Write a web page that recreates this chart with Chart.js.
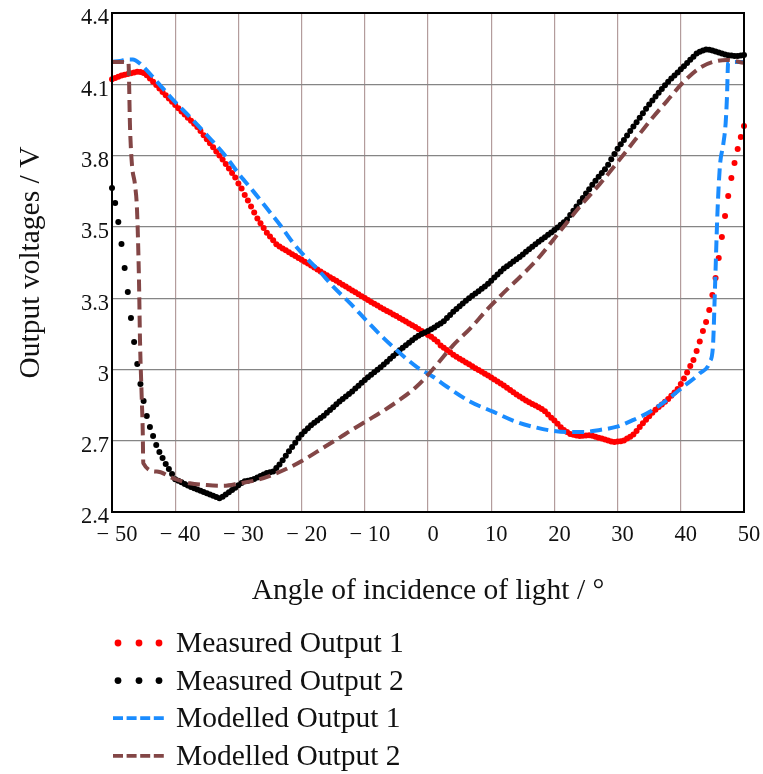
<!DOCTYPE html>
<html><head><meta charset="utf-8">
<script src="https://cdn.jsdelivr.net/npm/chart.js@4.4.1/dist/chart.umd.min.js"></script>
<style>html,body{margin:0;padding:0;background:#fff;}#wrap{width:763px;height:774px;}</style>
</head><body><div id="wrap"><canvas id="c" width="763" height="774"></canvas></div>
<script>
// ---------- data ----------
const seriesLabels = ['Measured Output 1', 'Measured Output 2', 'Modelled Output 1', 'Modelled Output 2'];
const xTickValues = [-50, -40, -30, -20, -10, 0, 10, 20, 30, 40, 50];
const xTickLabels = ['\u2212 50', '\u2212 40', '\u2212 30', '\u2212 20', '\u2212 10', '0', '10', '20', '30', '40', '50'];
const yTickLabels = ['2.4', '2.7', '3', '3.3', '3.5', '3.8', '4.1', '4.4'];
const yMin = 2.4, yMax = 4.4;
const yTickValues = yTickLabels.map((_, i) => yMin + i * (yMax - yMin) / (yTickLabels.length - 1));

const measuredAngles = [
-50,-49.5,-49,-48.5,-48,-47.5,-47,-46.5,-46,-45.5,
-45,-44.5,-44,-43.5,-43,-42.5,-42,-41.5,-41,-40.5,
-40,-39.5,-39,-38.5,-38,-37.5,-37,-36.5,-36,-35.5,
-35,-34.5,-34,-33.5,-33,-32.5,-32,-31.5,-31,-30.5,
-30,-29.5,-29,-28.5,-28,-27.5,-27,-26.5,-26,-25.5,
-25,-24.5,-24,-23.5,-23,-22.5,-22,-21.5,-21,-20.5,
-20,-19.5,-19,-18.5,-18,-17.5,-17,-16.5,-16,-15.5,
-15,-14.5,-14,-13.5,-13,-12.5,-12,-11.5,-11,-10.5,
-10,-9.5,-9,-8.5,-8,-7.5,-7,-6.5,-6,-5.5,
-5,-4.5,-4,-3.5,-3,-2.5,-2,-1.5,-1,-0.5,
0,0.5,1,1.5,2,2.5,3,3.5,4,4.5,
5,5.5,6,6.5,7,7.5,8,8.5,9,9.5,
10,10.5,11,11.5,12,12.5,13,13.5,14,14.5,
15,15.5,16,16.5,17,17.5,18,18.5,19,19.5,
20,20.5,21,21.5,22,22.5,23,23.5,24,24.5,
25,25.5,26,26.5,27,27.5,28,28.5,29,29.5,
30,30.5,31,31.5,32,32.5,33,33.5,34,34.5,
35,35.5,36,36.5,37,37.5,38,38.5,39,39.5,
40,40.5,41,41.5,42,42.5,43,43.5,44,44.5,
45,45.5,46,46.5,47,47.5,48,48.5,49,49.5,
50];

const measured1 = [
4.134,4.139,4.144,4.149,4.153,4.156,4.159,4.162,4.165,4.164,
4.160,4.151,4.137,4.124,4.111,4.097,4.083,4.070,4.057,4.044,
4.031,4.018,4.005,3.993,3.980,3.968,3.956,3.943,3.927,3.910,
3.894,3.878,3.862,3.845,3.829,3.813,3.795,3.777,3.759,3.741,
3.717,3.697,3.671,3.648,3.624,3.600,3.576,3.557,3.538,3.519,
3.504,3.489,3.473,3.464,3.456,3.449,3.441,3.433,3.426,3.418,
3.411,3.403,3.396,3.388,3.380,3.372,3.364,3.356,3.349,3.341,
3.334,3.327,3.319,3.311,3.304,3.296,3.288,3.281,3.273,3.265,
3.258,3.250,3.242,3.235,3.228,3.220,3.213,3.206,3.200,3.192,
3.186,3.178,3.171,3.164,3.156,3.148,3.141,3.133,3.125,3.117,
3.109,3.102,3.092,3.082,3.067,3.058,3.049,3.040,3.030,3.022,
3.014,3.007,2.999,2.992,2.984,2.976,2.969,2.962,2.954,2.947,
2.939,2.931,2.923,2.915,2.907,2.898,2.889,2.880,2.871,2.863,
2.855,2.847,2.840,2.833,2.827,2.820,2.813,2.804,2.791,2.778,
2.767,2.754,2.740,2.729,2.721,2.713,2.710,2.707,2.705,2.706,
2.707,2.708,2.706,2.702,2.698,2.695,2.691,2.687,2.683,2.681,
2.683,2.684,2.687,2.695,2.702,2.711,2.725,2.741,2.756,2.770,
2.784,2.798,2.810,2.821,2.831,2.842,2.853,2.866,2.879,2.893,
2.913,2.935,2.959,2.985,3.009,3.045,3.083,3.125,3.162,3.210,
3.270,3.338,3.418,3.502,3.586,3.667,3.739,3.799,3.855,3.903,
3.947];

const measured2 = [
3.699,3.638,3.562,3.474,3.378,3.282,3.178,3.081,2.993,2.913,
2.845,2.785,2.741,2.705,2.669,2.640,2.616,2.592,2.572,2.552,
2.531,2.525,2.519,2.512,2.506,2.500,2.495,2.490,2.485,2.480,
2.475,2.470,2.465,2.460,2.455,2.461,2.470,2.479,2.488,2.497,
2.507,2.516,2.523,2.525,2.528,2.532,2.538,2.544,2.550,2.556,
2.559,2.562,2.576,2.590,2.607,2.625,2.643,2.661,2.678,2.696,
2.711,2.724,2.736,2.748,2.758,2.767,2.777,2.786,2.798,2.809,
2.820,2.832,2.843,2.853,2.863,2.873,2.883,2.895,2.906,2.918,
2.929,2.940,2.950,2.960,2.970,2.980,2.991,3.002,3.014,3.025,
3.036,3.048,3.058,3.068,3.078,3.088,3.098,3.106,3.113,3.119,
3.125,3.132,3.139,3.148,3.156,3.165,3.178,3.190,3.203,3.214,
3.225,3.236,3.247,3.257,3.267,3.276,3.285,3.295,3.304,3.315,
3.327,3.340,3.352,3.364,3.376,3.385,3.394,3.404,3.413,3.422,
3.432,3.443,3.453,3.463,3.473,3.483,3.492,3.501,3.511,3.520,
3.530,3.540,3.551,3.561,3.572,3.590,3.607,3.624,3.642,3.659,
3.677,3.694,3.712,3.728,3.744,3.759,3.774,3.792,3.814,3.835,
3.856,3.874,3.891,3.909,3.927,3.945,3.962,3.980,3.998,4.016,
4.033,4.049,4.065,4.080,4.095,4.110,4.124,4.137,4.150,4.162,
4.175,4.187,4.200,4.213,4.225,4.238,4.245,4.250,4.254,4.253,
4.250,4.246,4.242,4.238,4.234,4.231,4.230,4.228,4.228,4.230,
4.232];

const model1Angles = [-50,-48.7,-47.4,-46.7,-45.6,-42.9,-40.3,-37.7,-35,-32.4,-29.8,-27.6,-25.5,-23.4,-21.3,-19.2,-17.1,-15,-12.3,-9.7,-7.1,-4.4,-1.8,0.8,3,6.7,10.3,14,16.7,19.3,22,24.6,27.2,29.9,32.5,35.1,37.8,40.4,43,44.6,45.1,45.4,45.8,46.2,46.7,47.1,47.3,47.5,50];
const model1 = [4.204,4.208,4.214,4.214,4.198,4.125,4.051,3.984,3.911,3.838,3.751,3.684,3.617,3.550,3.477,3.417,3.363,3.303,3.236,3.166,3.099,3.036,2.982,2.942,2.902,2.842,2.802,2.761,2.741,2.727,2.721,2.721,2.729,2.742,2.769,2.802,2.849,2.902,2.956,3.002,3.069,3.290,3.600,3.790,3.870,3.960,4.060,4.204,4.204];

const model2Angles = [-50,-47.4,-47.15,-46.84,-46.36,-46.04,-45.73,-45.57,-45.3,-45.14,-45.05,-42.9,-40.3,-37.7,-35,-32.4,-29.8,-27.1,-24.5,-21.8,-19.2,-16.6,-13.9,-12.3,-9.7,-7.1,-4.4,-1.8,0.8,4,6.7,9.3,11.9,14.6,17.2,19.8,20.9,24.1,27.2,29.9,32.5,35.1,37.8,40.4,43,45.1,47.3,50];
const model2 = [4.204,4.202,3.943,3.791,3.711,3.610,3.330,3.089,2.861,2.729,2.596,2.562,2.535,2.515,2.508,2.505,2.515,2.528,2.550,2.580,2.616,2.657,2.699,2.725,2.765,2.805,2.851,2.903,2.973,3.069,3.136,3.210,3.277,3.343,3.410,3.490,3.526,3.626,3.715,3.799,3.883,3.967,4.047,4.123,4.180,4.204,4.212,4.200];

// ---------- styles ----------
const COLORS = ['#ff0000', '#000000', '#1a8cff', '#834646'];
const SERIF = '"Liberation Serif", "Times New Roman", serif';

function pairs(xs, ys) { return xs.map((x, i) => ({ x: x, y: ys[i] })); }

const framePlugin = {
  id: 'frame',
  afterDraw(chart) {
    const { ctx, chartArea: a } = chart;
    ctx.save();
    ctx.strokeStyle = '#000';
    ctx.lineWidth = 2;
    ctx.strokeRect(a.left, a.top, a.right - a.left, a.bottom - a.top);
    ctx.restore();
  }
};

const legendPlugin = {
  id: 'seriesLegend',
  afterDraw(chart) {
    const ctx = chart.ctx;
    const base = chart.chartArea.bottom + 131;
    const step = 37.6;
    ctx.save();
    chart.data.datasets.forEach((ds, i) => {
      const cy = base + i * step;
      const col = COLORS[i];
      if (!ds.showLine) {
        ctx.fillStyle = col;
        [118, 139, 159].forEach(cx => { ctx.beginPath(); ctx.arc(cx, cy, 3.4, 0, Math.PI * 2); ctx.fill(); });
      } else {
        ctx.strokeStyle = col;
        ctx.lineWidth = 3.8;
        ctx.setLineDash([10, 3.6]);
        ctx.beginPath(); ctx.moveTo(113, cy); ctx.lineTo(164, cy); ctx.stroke();
        ctx.setLineDash([]);
      }
      ctx.fillStyle = '#111';
      ctx.font = '29.5px ' + SERIF;
      ctx.textBaseline = 'alphabetic';
      ctx.textAlign = 'left';
      ctx.fillText(ds.label, 176, cy + 9);
    });
    ctx.restore();
  }
};

function build() {
  const ctx = document.getElementById('c').getContext('2d');
  new Chart(ctx, {
    type: 'scatter',
    data: {
      datasets: [
        { label: seriesLabels[0], data: pairs(measuredAngles, measured1), showLine: false,
          pointRadius: 3, pointBorderWidth: 0, pointBackgroundColor: COLORS[0], backgroundColor: COLORS[0], borderColor: COLORS[0], order: 4, clip: 6 },
        { label: seriesLabels[1], data: pairs(measuredAngles, measured2), showLine: false,
          pointRadius: 3, pointBorderWidth: 0, pointBackgroundColor: COLORS[1], backgroundColor: COLORS[1], borderColor: COLORS[1], order: 3, clip: 6 },
        { label: seriesLabels[2], data: pairs(model1Angles, model1), showLine: true, fill: false,
          borderColor: COLORS[2], borderWidth: 4, borderDash: [12, 6], pointRadius: 0, cubicInterpolationMode: 'monotone', order: 2, clip: 6 },
        { label: seriesLabels[3], data: pairs(model2Angles, model2), showLine: true, fill: false,
          borderColor: COLORS[3], borderWidth: 4, borderDash: [12, 6], pointRadius: 0, cubicInterpolationMode: 'monotone', order: 1, clip: 6 }
      ]
    },
    options: {
      responsive: false,
      animation: false,
      devicePixelRatio: 1,
      events: [],
      layout: { padding: { left: 0, right: 19, top: 13, bottom: 165 } },
      plugins: { legend: { display: false }, tooltip: { enabled: false } },
      scales: {
        x: {
          type: 'linear', min: -50, max: 50,
          afterBuildTicks: s => { s.ticks = xTickValues.map(v => ({ value: v })); },
          afterFit: s => { s.height = 97; s.paddingLeft = 0; s.paddingRight = 0; },
          ticks: { callback: (v, i) => xTickLabels[i], font: { family: SERIF, size: 22.5 }, color: '#111',
                   padding: 10, labelOffset: 5, maxRotation: 0, autoSkip: false },
          grid: { color: '#b39c9c', lineWidth: 1.2, drawTicks: false },
          border: { display: false },
          title: { display: true, text: 'Angle of incidence of light / \u00b0', font: { family: SERIF, size: 29.5 },
                   color: '#111', padding: { top: 0, bottom: 0 } }
        },
        y: {
          type: 'linear', min: yMin, max: yMax,
          afterBuildTicks: s => { s.ticks = yTickValues.map(v => ({ value: v })); },
          afterFit: s => { s.width = 112; s.paddingTop = 0; s.paddingBottom = 0; },
          ticks: { callback: (v, i) => yTickLabels[i], font: { family: SERIF, size: 22.5 }, color: '#111',
                   padding: 3, labelOffset: 5.5, autoSkip: false },
          grid: { color: '#858585', lineWidth: 1.2, drawTicks: false },
          border: { display: false },
          title: { display: true, text: 'Output voltages / V', font: { family: SERIF, size: 29.5 },
                   color: '#111', padding: { top: 14, bottom: 0 } }
        }
      }
    },
    plugins: [framePlugin, legendPlugin]
  });
}

if (document.fonts && document.fonts.load) {
  Promise.all([document.fonts.load('22px "Liberation Serif"'), document.fonts.load('29px "Liberation Serif"')])
    .then(build, build);
} else { build(); }
</script>
</body></html>
